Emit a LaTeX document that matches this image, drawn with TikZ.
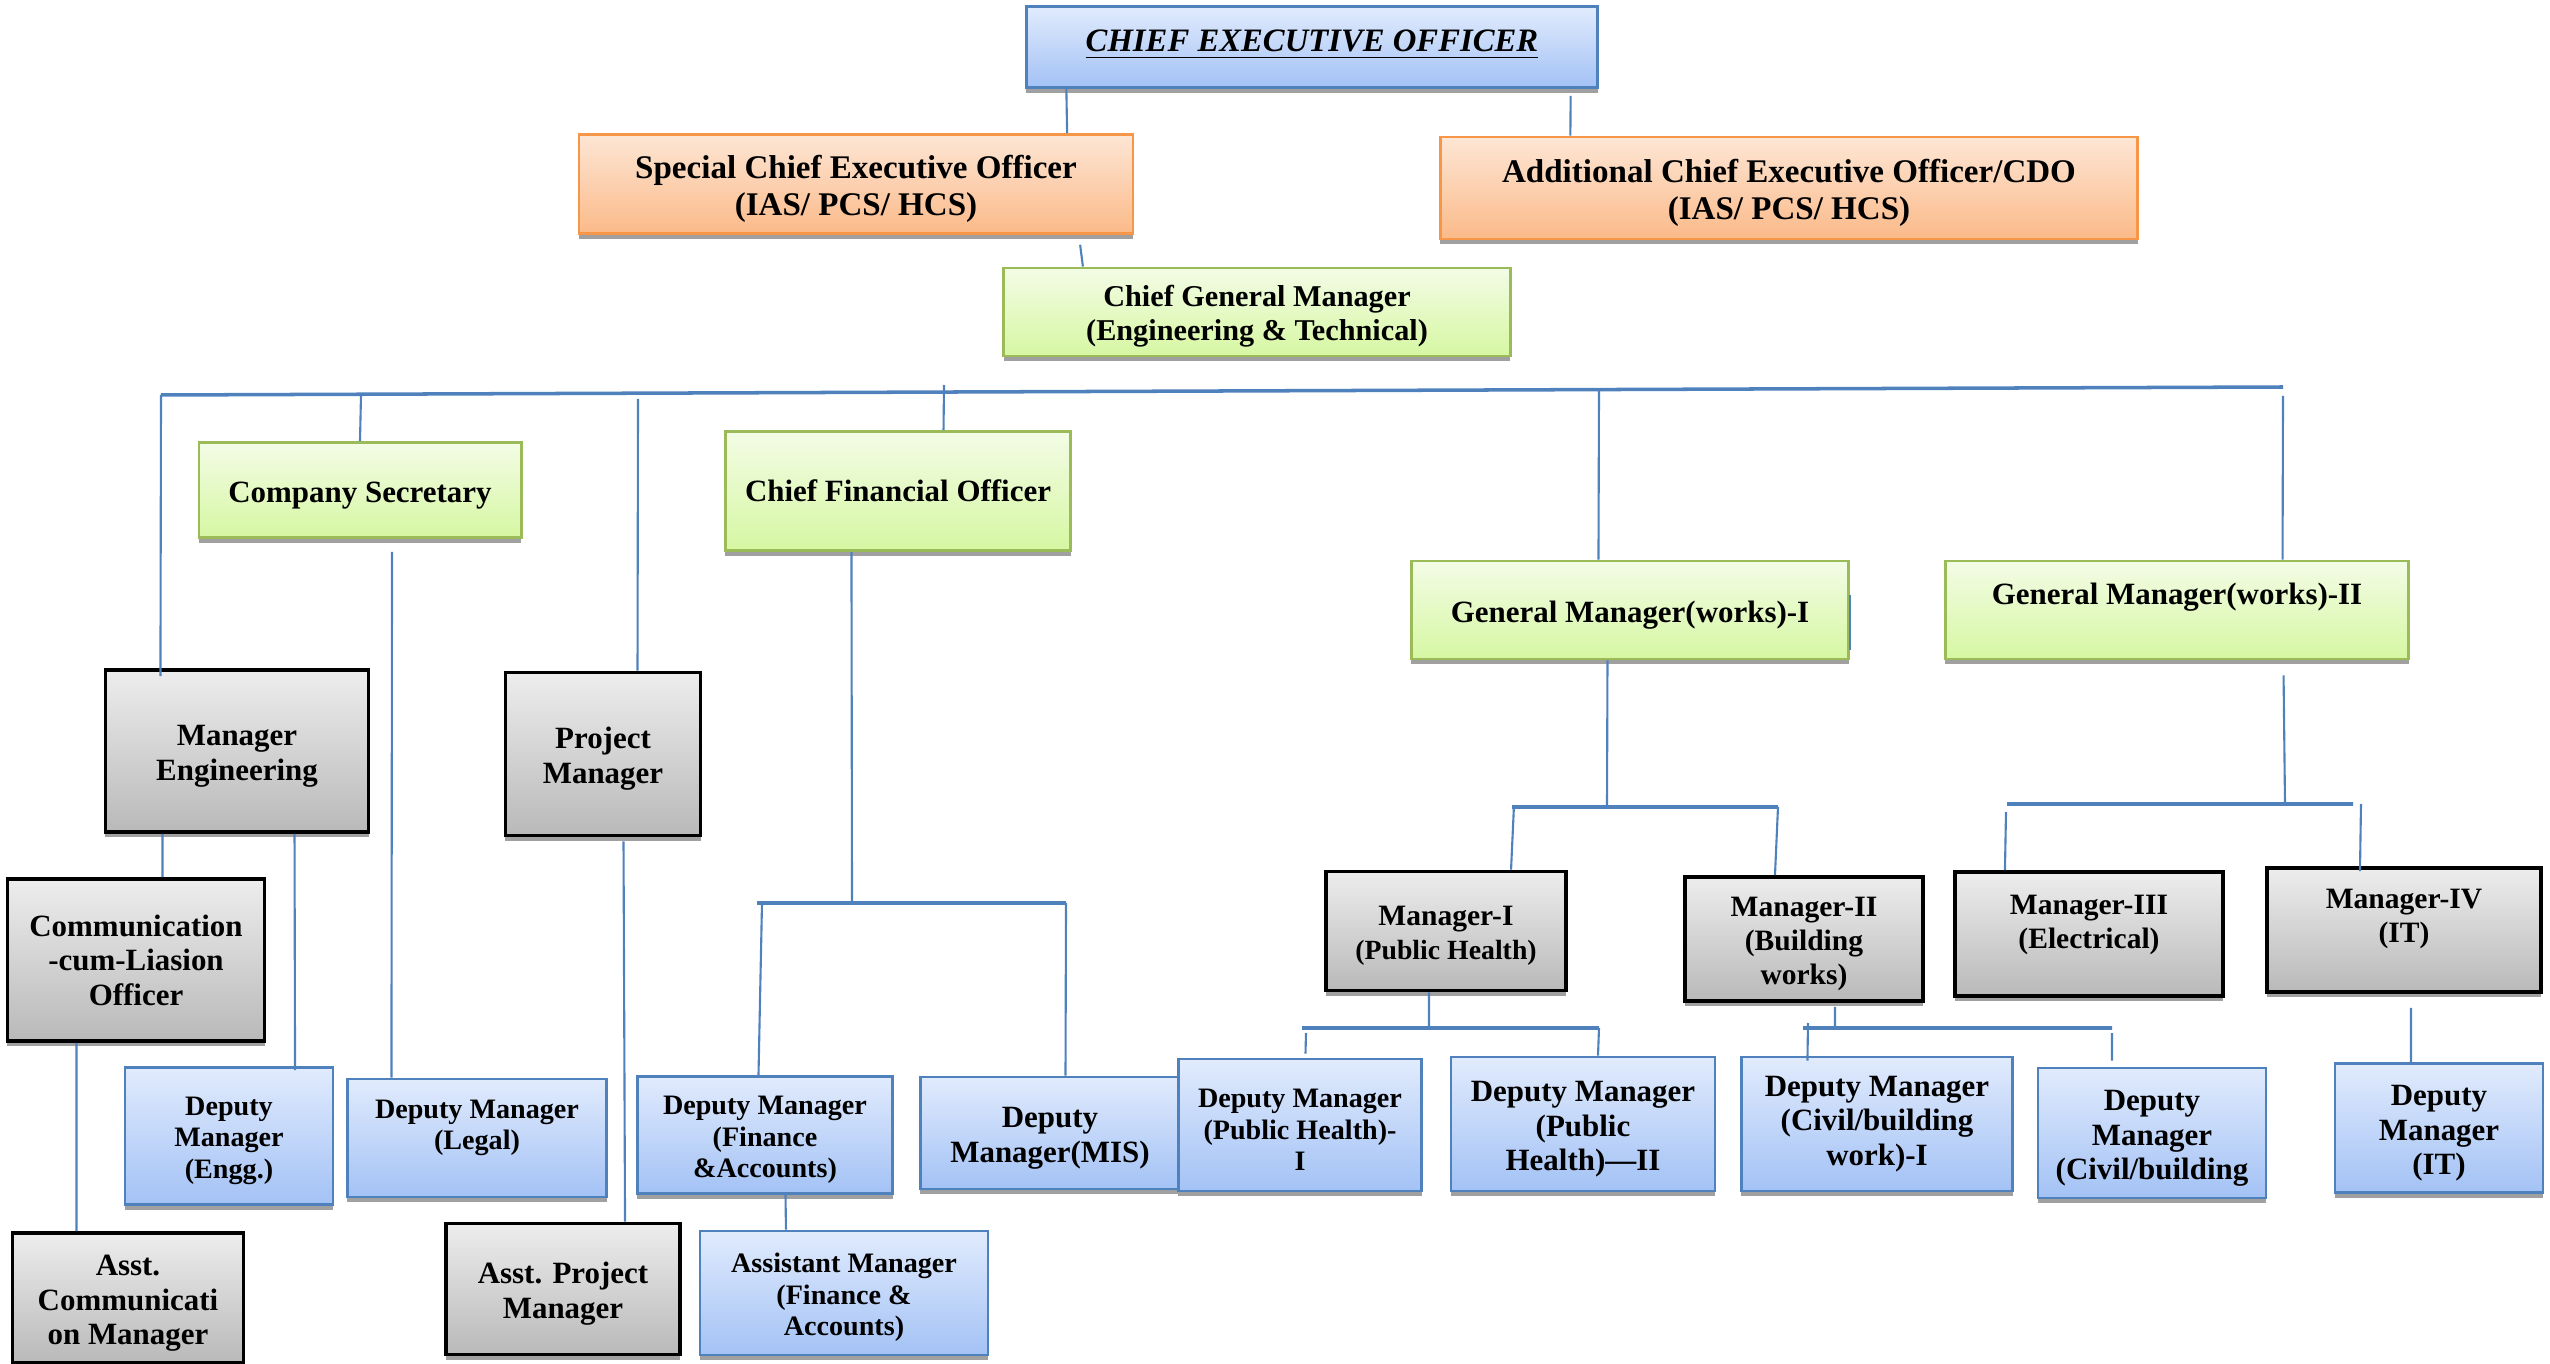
\documentclass[tikz,border=0pt]{standalone}
\usepackage{fontspec}
\setmainfont{Liberation Serif}
\usetikzlibrary{shadows}

\definecolor{linkblue}{HTML}{4F81BD}
\definecolor{bluetop}{HTML}{E1EBFD}
\definecolor{bluebot}{HTML}{A3C2F5}
\definecolor{orangeline}{HTML}{F79646}
\definecolor{orangetop}{HTML}{FDE6D5}
\definecolor{orangebot}{HTML}{FBBA89}
\definecolor{greenline}{HTML}{9BBB59}
\definecolor{greentop}{HTML}{F3FCE6}
\definecolor{greenbot}{HTML}{D6F7A2}
\definecolor{graytop}{HTML}{EDEDED}
\definecolor{graybot}{HTML}{B9B9B9}
\definecolor{shadowgray}{HTML}{A0A0A0}

\newcommand{\hdstrut}{\rule{0pt}{1em}}

\begin{document}
\begin{tikzpicture}[x=0.01cm,y=-0.01cm,
  box/.style={rectangle,align=center,inner sep=1pt,
    font=\bfseries\fontsize{8.8}{9.8}\selectfont,
    drop shadow={shadow xshift=0pt,shadow yshift=-0.05cm,fill=shadowgray,opacity=1}},
  blue node/.style={box,draw=linkblue,line width=0.8pt,top color=bluetop,bottom color=bluebot},
  orange node/.style={box,draw=orangeline,line width=0.7pt,top color=orangetop,bottom color=orangebot,
    font=\bfseries\fontsize{9.4}{10.8}\selectfont},
  green node/.style={box,draw=greenline,line width=0.8pt,top color=greentop,bottom color=greenbot},
  gray node/.style={box,draw=black,line width=1pt,top color=graytop,bottom color=graybot},
  small text/.style={font=\bfseries\fontsize{8}{8.9}\selectfont},
  mid text/.style={font=\bfseries\fontsize{8.4}{9.6}\selectfont},
  link/.style={every edge/.style={draw=linkblue,line width=0.6pt}},
  bus/.style={draw=linkblue,line width=1pt}]

 \path[use as bounding box,fill=white] (0,0) rectangle (2550,1364);

 \node[blue node,minimum width=5.71cm,minimum height=0.81cm,
   font=\bfseries\itshape\fontsize{9.3}{11}\selectfont] (ceo) at (1312,47) {\underline{CHIEF EXECUTIVE OFFICER}\\[-7.6pt]\mbox{}};
 \node[orange node,minimum width=5.54cm,minimum height=0.99cm] (sceo) at (856,184) {\hdstrut Special Chief Executive Officer\\(IAS/ PCS/ HCS)};
 \node[orange node,minimum width=6.97cm,minimum height=1.02cm] (aceo) at (1789,188) {\hdstrut Additional Chief Executive Officer/CDO\\(IAS/ PCS/ HCS)};
 \node[green node,minimum width=5.06cm,minimum height=0.88cm,
   font=\bfseries\fontsize{8.6}{9.7}\selectfont] (cgm) at (1257,312) {\hdstrut Chief General Manager\\(Engineering \& Technical)};

 \node[green node,minimum width=3.22cm,minimum height=0.95cm] (cs) at (360,490) {\hdstrut Company Secretary};
 \node[green node,minimum width=3.45cm,minimum height=1.19cm] (cfo) at (898,491) {Chief Financial Officer};
 \node[green node,minimum width=4.37cm,minimum height=0.98cm] (gm1) at (1630,610) {\hdstrut General Manager(works)-I};
 \node[green node,minimum width=4.63cm,minimum height=0.98cm] (gm2) at (2177,610) {General Manager(works)-II\\[-0.8pt]\mbox{}};

 \node[gray node,minimum width=2.63cm,minimum height=1.62cm] (me) at (237,751) {\hdstrut Manager\\Engineering};
 \node[gray node,minimum width=1.95cm,minimum height=1.63cm] (pm) at (603,754) {\hdstrut Project\\Manager};
 \node[gray node,minimum width=2.57cm,minimum height=1.62cm] (comm) at (136,960) {Communication\\-cum-Liasion\\Officer};
 \node[gray node,mid text,minimum width=2.40cm,minimum height=1.19cm] (m1) at (1446,931) {\hdstrut Manager-I\\{\fontsize{7.9}{9}\selectfont(Public Health)}};
 \node[gray node,mid text,minimum width=2.38cm,minimum height=1.24cm] (m2) at (1804,939) {\hdstrut Manager-II\\(Building\\works)};
 \node[gray node,mid text,minimum width=2.68cm,minimum height=1.24cm] (m3) at (2089,934) {Manager-III\\(Electrical)\\[-2.5pt]\mbox{}};
 \node[gray node,mid text,minimum width=2.74cm,minimum height=1.24cm] (m4) at (2404,930) {Manager-IV\\(IT)\\[-1.6pt]\mbox{}};

 \node[blue node,small text,minimum width=2.08cm,minimum height=1.37cm] (dme) at (229,1136) {\hdstrut Deputy\\Manager\\(Engg.)};
 \node[blue node,small text,minimum width=2.59cm,minimum height=1.18cm] (dml) at (477,1138) {Deputy Manager\\(Legal)\\[-1.5pt]\mbox{}};
 \node[blue node,small text,minimum width=2.55cm,minimum height=1.17cm] (dmf) at (765,1135) {\hdstrut Deputy Manager\\(Finance\\\&Accounts)};
 \node[blue node,minimum width=2.59cm,minimum height=1.12cm] (dmm) at (1050,1133) {\hdstrut Deputy\\Manager(MIS)};
 \node[blue node,small text,minimum width=2.88cm,minimum height=1.24cm] (am) at (844,1293) {\hdstrut Assistant Manager\\(Finance \&\\Accounts)};
 \node[gray node,minimum width=2.31cm,minimum height=1.30cm] (ac) at (128,1298) {\hdstrut Asst.\\Communicati\\on Manager};
 \node[gray node,minimum width=2.34cm,minimum height=1.31cm] (apm) at (563,1289) {\hdstrut Asst. Project\\Manager};

 \node[blue node,small text,minimum width=2.43cm,minimum height=1.32cm] (dph1) at (1300,1125) {\hdstrut Deputy Manager\\(Public Health)-\\I};
 \node[blue node,minimum width=2.64cm,minimum height=1.34cm] (dph2) at (1583,1124) {\hdstrut Deputy Manager\\(Public\\Health)---II};
 \node[blue node,minimum width=2.71cm,minimum height=1.34cm] (dc1) at (1877,1124) {Deputy Manager\\(Civil/building\\work)-I};
 \node[blue node,minimum width=2.28cm,minimum height=1.30cm] (dc2) at (2152,1133) {\hdstrut Deputy\\Manager\\(Civil/building};
 \node[blue node,minimum width=2.08cm,minimum height=1.29cm] (dit) at (2439,1128) {\hdstrut Deputy\\Manager\\(IT)};

 \coordinate (mb w) at (161,395);
 \coordinate (mb e) at (2283,387);
 \coordinate (mb cs) at (361,395);
 \coordinate (mb pm) at (638,399);
 \coordinate (mb cfo) at (944,385);
 \coordinate (mb gm) at (1599,389);
 \coordinate (mb gm2) at (2283,396);
 \coordinate (fb w) at (757,903);
 \coordinate (fb e) at (1066,903);
 \coordinate (fb c) at (852,903);
 \coordinate (fb wd) at (762,903);
 \coordinate (b1 w) at (1512,807);
 \coordinate (b1 e) at (1778,807);
 \coordinate (b1 c) at (1607,807);
 \coordinate (b1 wd) at (1514,805);
 \coordinate (b2 w) at (2007,804);
 \coordinate (b2 e) at (2353,804);
 \coordinate (b2 c) at (2285,804);
 \coordinate (b2 wd) at (2006,812);
 \coordinate (b2 ed) at (2361,804);
 \coordinate (b3 w) at (1302,1028);
 \coordinate (b3 e) at (1599,1028);
 \coordinate (b3 c) at (1429,1028);
 \coordinate (b3 wd) at (1306,1033);
 \coordinate (b4 w) at (1803,1028);
 \coordinate (b4 e) at (2112,1028);
 \coordinate (b4 c) at (1835,1028);
 \coordinate (b4 wd) at (1808,1023);
 \coordinate (b4 ed) at (2112,1033);

 \draw[bus] (mb w) -- (mb e) (fb w) -- (fb e) (b1 w) -- (b1 e)
   (b2 w) -- (b2 e) (b3 w) -- (b3 e) (b4 w) -- (b4 e);

 \path[link]
    ([xshift=-2.455cm]ceo.south) edge ([xshift=2.11cm]sceo.north)
    ([xshift=2.585cm,yshift=-0.07cm]ceo.south) edge ([xshift=-2.185cm]aceo.north)
    ([xshift=2.24cm,yshift=-0.1cm]sceo.south) edge ([xshift=-1.74cm]cgm.north)
    (mb w) edge ([xshift=-0.765cm,yshift=-0.08cm]me.north)
    (mb cs) edge (cs.north)
    (mb pm) edge ([xshift=0.345cm]pm.north)
    (mb cfo) edge ([xshift=0.455cm]cfo.north)
    (mb gm) edge ([xshift=-0.315cm]gm1.north)
    (mb gm2) edge ([xshift=1.055cm]gm2.north)
    ([xshift=-0.745cm]me.south) edge ([xshift=0.265cm]comm.north)
    ([xshift=0.575cm]me.south) edge ([xshift=0.66cm,yshift=-0.04cm]dme.north)
    ([xshift=0.32cm,yshift=-0.13cm]cs.south) edge ([xshift=-0.855cm]dml.north)
    ([xshift=0.205cm,yshift=-0.04cm]pm.south) edge ([xshift=0.62cm]apm.north)
    ([xshift=-0.595cm]comm.south) edge ([xshift=-0.515cm]ac.north)
    ([xshift=-0.465cm]cfo.south) edge (fb c)
    (fb wd) edge ([xshift=-0.065cm]dmf.north)
    (fb e) edge ([xshift=0.155cm]dmm.north)
    ([xshift=0.205cm]dmf.south) edge ([xshift=-0.58cm]am.north)
    ([xshift=-0.225cm]gm1.south) edge (b1 c)
    (b1 wd) edge ([xshift=0.65cm]m1.north)
    (b1 e) edge ([xshift=-0.29cm]m2.north)
    ([xshift=1.065cm,yshift=-0.15cm]gm2.south) edge (b2 c)
    (b2 wd) edge ([xshift=-0.84cm]m3.north)
    (b2 ed) edge ([xshift=-0.44cm,yshift=-0.05cm]m4.north)
    ([xshift=-0.17cm]m1.south) edge (b3 c)
    (b3 wd) edge ([xshift=0.055cm,yshift=0.04cm]dph1.north)
    (b3 e) edge ([xshift=0.15cm]dph2.north)
    ([xshift=0.31cm,yshift=-0.04cm]m2.south) edge (b4 c)
    (b4 wd) edge ([xshift=-0.695cm,yshift=-0.05cm]dc1.north)
    (b4 ed) edge ([xshift=-0.4cm,yshift=0.06cm]dc2.north)
    ([xshift=0.07cm,yshift=-0.14cm]m4.south) edge ([xshift=-0.28cm]dit.north)
    ([yshift=0.15cm]gm1.east) edge ([yshift=-0.4cm]gm1.east);

\end{tikzpicture}
\end{document}
